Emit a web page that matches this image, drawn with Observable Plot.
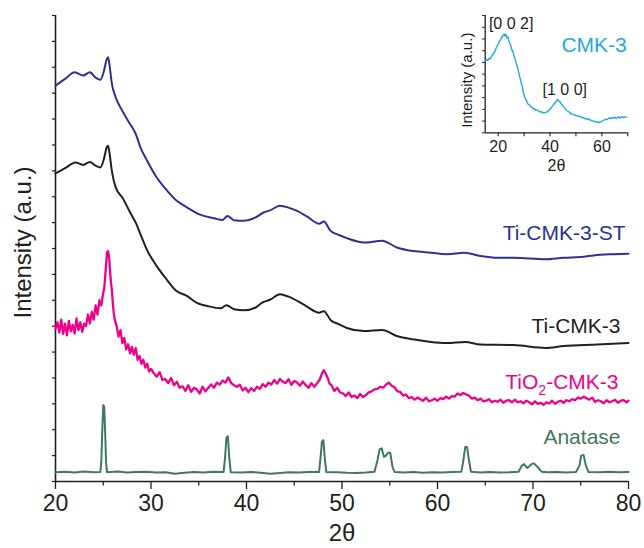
<!DOCTYPE html>
<html><head><meta charset="utf-8">
<script src="https://cdn.jsdelivr.net/npm/d3@7"></script>
<script src="https://cdn.jsdelivr.net/npm/@observablehq/plot@0.6"></script>
<style>
body{margin:0;background:#fff;}
#wrap{position:relative;width:644px;height:548px;}
#wrap svg{position:absolute;}
</style></head><body><div id="wrap"></div>
<script>
// ---------- data (2θ, intensity offset in arbitrary units) ----------
const seriesNames = ["Ti-CMK-3-ST", "Ti-CMK-3", "TiO2-CMK-3", "Anatase"];
const seriesColors = ["#2e3192", "#231f20", "#ec008c", "#3f7a5a"];
const xMajorTicks = [20, 30, 40, 50, 60, 70, 80];
const xMinorTicks = [25, 35, 45, 55, 65, 75];
const yTicks = [0,1,2,3,4,5,6,7,8,9,10,11,12,13,14,15,16,17,18];
const insetXTicks = [20, 30, 40, 50, 60, 70];
const insetXLabels = [20, 40, 60];
const insetYTicks = [0,1,2,3,4,5,6,7,8,9,10];
const insetName = "CMK-3";
const insetPeakLabels = ["[0 0 2]", "[1 0 0]"];

const tiCmkSt = [[20.0,15.29],[21.0,15.55],[22.0,15.81],[22.9,15.68],[23.6,15.81],[24.2,15.6],[24.7,15.52],[25.1,15.9],[25.35,16.3],[25.5,16.39],[25.65,16.1],[25.9,15.37],[26.3,14.84],[26.8,14.45],[27.7,13.87],[28.4,13.43],[28.9,12.90],[29.6,12.39],[30.6,11.74],[31.7,11.23],[32.7,10.84],[33.8,10.58],[35.0,10.33],[36.6,10.17],[37.5,10.10],[38.0,10.26],[38.7,10.09],[39.7,10.07],[40.9,10.19],[41.8,10.39],[42.5,10.48],[43.5,10.65],[44.4,10.58],[45.3,10.45],[46.4,10.22],[47.6,9.96],[48.1,10.04],[48.8,9.68],[49.7,9.52],[50.5,9.40],[52.3,9.23],[54.2,9.30],[55.8,9.03],[57.5,8.90],[59.3,8.84],[61.0,8.78],[62.8,8.84],[64.5,8.71],[66.3,8.64],[68.0,8.64],[71.3,8.58],[73.2,8.64],[75.0,8.67],[76.7,8.75],[78.5,8.78],[80.0,8.80]];

const tiCmk = [[20.0,11.90],[21.0,12.1],[22.1,12.32],[22.9,12.23],[23.6,12.34],[24.2,12.2],[24.7,12.13],[25.1,12.5],[25.35,12.9],[25.5,12.97],[25.65,12.7],[25.9,12.00],[26.3,11.36],[27.0,10.97],[27.9,10.33],[28.4,10.0],[28.9,9.55],[29.6,8.93],[30.6,8.32],[31.5,7.87],[32.6,7.38],[33.8,7.16],[34.8,6.90],[35.9,6.78],[37.3,6.69],[37.9,6.81],[38.7,6.65],[39.7,6.61],[40.9,6.71],[41.6,6.90],[42.5,7.03],[43.5,7.23],[44.4,7.14],[45.5,6.94],[46.4,6.74],[47.6,6.52],[48.1,6.58],[48.8,6.24],[49.7,6.07],[50.5,5.93],[52.3,5.81],[54.2,5.85],[55.8,5.61],[57.5,5.49],[59.3,5.39],[61.0,5.35],[62.9,5.39],[64.5,5.29],[68.0,5.27],[71.3,5.16],[73.2,5.23],[76.7,5.29],[80.0,5.35]];

const tio2Cmk = [[20.0,5.90],[20.2,6.15],[20.4,5.75],[20.6,6.25],[20.8,5.70],[21.0,6.10],[21.2,5.65],[21.4,6.20],[21.6,5.80],[21.8,6.05],[22.0,5.72],[22.2,6.30],[22.4,5.85],[22.6,6.15],[22.8,5.78],[23.0,6.10],[23.2,6.00],[23.4,6.45],[23.6,6.10],[23.8,6.55],[24.0,6.25],[24.2,6.80],[24.4,6.45],[24.6,7.00],[24.8,6.80],[25.0,7.30],[25.1,7.45],[25.2,7.90],[25.3,8.40],[25.4,8.85],[25.5,8.90],[25.6,8.70],[25.7,8.20],[25.8,7.70],[25.9,7.40],[26.0,6.90],[26.1,6.50],[26.2,6.25],[26.4,6.00],[26.6,5.60],[26.8,5.85],[27.0,5.35],[27.2,5.55],[27.4,5.10],[27.6,5.30],[27.8,4.95],[28.0,5.20],[28.2,4.90],[28.4,5.15],[28.6,4.70],[28.8,4.85],[29.0,4.55],[29.2,4.70],[29.4,4.40],[29.6,4.55],[29.8,4.25],[30.0,4.35],
[30.3,4.18],[30.6,4.05],[30.9,4.22],[31.2,3.92],[31.5,3.96],[31.8,3.80],[32.1,4.00],[32.4,3.72],[32.7,3.85],[33.0,3.62],[33.3,3.68],[33.6,3.50],[33.9,3.72],[34.2,3.46],[34.5,3.62],[34.8,3.55],[35.1,3.40],[35.4,3.66],[35.7,3.48],[36.0,3.62],[36.3,3.75],[36.6,3.62],[36.9,3.82],[37.2,3.74],[37.5,3.90],[37.8,3.82],[38.1,4.02],[38.4,3.80],[38.7,3.72],[39.0,3.66],[39.3,3.74],[39.6,3.52],[39.9,3.62],[40.2,3.45],[40.5,3.60],[40.8,3.50],[41.1,3.66],[41.4,3.58],[41.7,3.76],[42.0,3.66],[42.3,3.82],[42.6,3.74],[42.9,3.92],[43.2,3.78],[43.5,3.96],[43.8,3.86],[44.1,3.80],[44.4,3.95],[44.7,3.74],[45.0,3.88],[45.3,3.82],[45.6,3.70],[45.9,3.86],[46.2,3.72],[46.5,3.62],[46.8,3.80],[47.1,3.66],[47.4,3.80],[47.7,3.96],[47.9,4.18],[48.1,4.30],[48.3,4.16],[48.5,4.00],[48.7,3.78],[48.9,3.72],[49.2,3.50],[49.5,3.62],[49.8,3.44],[50.1,3.40],[50.4,3.30],[50.7,3.44],[51.0,3.26],[51.3,3.32],[51.6,3.22],[51.9,3.38],[52.2,3.26],[52.5,3.34],[52.8,3.44],[53.1,3.48],[53.4,3.56],[53.7,3.58],[54.0,3.66],[54.3,3.62],[54.6,3.74],[54.9,3.82],[55.2,3.70],[55.5,3.64],[55.8,3.48],[56.1,3.46],[56.4,3.32],[56.7,3.36],[57.0,3.22],[57.3,3.26],[57.6,3.16],[57.9,3.24],[58.2,3.18],[58.5,3.12],[58.8,3.24],[59.1,3.10],[59.4,3.14],[59.7,3.20],[60.0,3.12],[60.3,3.22],[60.6,3.18],[60.9,3.28],[61.2,3.20],[61.5,3.30],[61.8,3.28],[62.1,3.40],[62.4,3.34],[62.7,3.42],[63.0,3.36],[63.3,3.32],[63.6,3.20],[63.9,3.24],[64.2,3.14],[64.5,3.20],[64.8,3.10],[65.1,3.12],[65.4,3.18],[65.7,3.06],[66.0,3.12],[66.3,3.08],[66.6,3.16],[66.9,3.04],[67.2,3.12],[67.5,3.14],[67.8,3.06],[68.1,3.16],[68.4,3.06],[68.7,3.10],[69.0,3.02],[69.3,3.12],[69.6,3.06],[69.9,2.98],[70.2,3.10],[70.5,3.00],[70.8,3.04],[71.1,2.96],[71.4,3.06],[71.7,3.02],[72.0,3.12],[72.3,3.00],[72.6,3.08],[72.9,3.12],[73.2,3.04],[73.5,3.14],[73.8,3.10],[74.1,3.18],[74.4,3.14],[74.7,3.24],[75.0,3.20],[75.3,3.28],[75.6,3.22],[75.9,3.16],[76.2,3.24],[76.5,3.08],[76.8,3.14],[77.1,3.10],[77.4,3.02],[77.7,3.14],[78.0,3.06],[78.3,3.10],[78.6,3.16],[78.9,3.04],[79.2,3.12],[79.5,3.14],[79.8,3.06],[80.0,3.12]];

const anatase = [[20,0.36],[21,0.38],[22,0.35],[23,0.39],[24,0.36],[24.7,0.37],[24.8,0.8],[24.9,2.0],[25.0,2.95],[25.1,2.9],[25.2,1.9],[25.3,0.7],[25.4,0.36],[26.5,0.39],[27.5,0.35],[28.5,0.37],[29.5,0.38],[30.5,0.35],[31.5,0.36],[32.5,0.30],[33.5,0.34],[34.5,0.37],[35.5,0.35],[36.5,0.38],[37.6,0.37],[37.75,0.9],[37.9,1.7],[38.05,1.75],[38.2,0.9],[38.35,0.36],[39.5,0.35],[40.5,0.37],[41.5,0.34],[42.5,0.30],[43.5,0.33],[44.5,0.36],[45.5,0.35],[46.5,0.37],[47.6,0.37],[47.75,0.9],[47.9,1.55],[48.05,1.6],[48.2,0.9],[48.35,0.37],[49.5,0.36],[50.5,0.34],[51.5,0.33],[52.5,0.35],[53.4,0.38],[53.7,0.8],[53.95,1.25],[54.15,1.28],[54.4,0.95],[54.6,1.0],[54.85,1.12],[55.05,1.1],[55.3,0.55],[55.5,0.37],[56.5,0.35],[57.5,0.37],[58.5,0.34],[59.5,0.36],[60.5,0.35],[61.5,0.37],[62.5,0.38],[62.7,0.8],[62.9,1.33],[63.1,1.33],[63.3,0.8],[63.5,0.38],[64.5,0.35],[65.5,0.37],[66.5,0.35],[67.5,0.36],[68.5,0.38],[68.8,0.6],[69.05,0.67],[69.4,0.52],[69.8,0.66],[70.1,0.70],[70.5,0.55],[70.9,0.38],[71.5,0.36],[72.5,0.37],[73.5,0.35],[74.5,0.37],[74.85,0.6],[75.05,1.0],[75.3,1.02],[75.55,0.6],[75.8,0.37],[77,0.36],[78,0.38],[79,0.36],[80,0.37]];

const cmk3 = [[15.0,6.10],[15.5,6.25],[16.0,6.18],[16.5,6.35],[17.0,6.30],[17.5,6.55],[18.0,6.70],[18.5,6.85],[19.0,7.10],[19.5,7.35],[20.0,7.55],[20.5,7.80],[21.0,7.95],[21.5,8.20],[22.0,8.30],[22.3,8.42],[22.6,8.25],[23.0,8.40],[23.4,8.10],[23.8,8.15],[24.2,7.75],[24.6,7.60],[25.0,7.30],[25.4,7.00],[25.8,6.85],[26.2,6.50],[26.6,6.25],[27.0,5.90],[27.4,5.60],[27.8,5.30],[28.2,4.85],[28.6,4.55],[29.0,4.15],[29.4,3.85],[29.8,3.35],[30.2,3.10],[30.6,2.85],[31.0,2.70],[31.5,2.45],[32.0,2.40],[32.5,2.25],[33.0,2.15],[33.5,2.05],[34.0,2.05],[34.5,1.92],[35.0,1.95],[35.5,1.85],[36.0,1.82],[36.5,1.75],[37.0,1.78],[37.5,1.68],[38.0,1.72],[38.5,1.75],[39.0,1.80],[39.5,1.92],[40.0,2.00],[40.5,2.15],[41.0,2.30],[41.5,2.45],[42.0,2.55],[42.5,2.75],[43.0,2.85],[43.4,2.70],[43.8,2.65],[44.2,2.50],[44.6,2.38],[45.0,2.30],[45.5,2.15],[46.0,2.00],[46.5,1.90],[47.0,1.82],[47.5,1.75],[48.0,1.62],[48.5,1.60],[49.0,1.55],[49.5,1.52],[50.0,1.48],[50.5,1.45],[51.0,1.40],[51.5,1.42],[52.0,1.32],[52.5,1.30],[53.0,1.28],[53.5,1.20],[54.0,1.22],[54.5,1.15],[55.0,1.18],[55.5,1.08],[56.0,1.05],[56.5,1.00],[57.0,0.98],[57.5,0.92],[58.0,0.95],[58.5,0.88],[59.0,0.90],[59.5,0.92],[60.0,0.98],[60.5,1.05],[61.0,1.10],[61.5,1.15],[62.0,1.12],[62.5,1.22],[63.0,1.28],[63.5,1.20],[64.0,1.30],[64.5,1.25],[65.0,1.32],[65.5,1.22],[66.0,1.30],[66.5,1.35],[67.0,1.25],[67.5,1.38],[68.0,1.30],[68.5,1.35],[69.0,1.32],[69.5,1.36]];

// ---------- drawing ----------
const FONT = "'Liberation Sans', Arial, Helvetica, sans-serif";
const INK = "#231f20";
const CYAN = "#1fa9e1";
const X = d => d[0], Y = d => d[1];
const series = [tiCmkSt, tiCmk, tio2Cmk, anatase];
const labelDx = [-3, -8, -10, -8];
const labelDy = [-20, -17, -18, -35];
const lineWidths = [2, 2, 2.3, 2];

const seriesMarks = [];
[3, 2, 1, 0].forEach(i => {
  seriesMarks.push(Plot.line(series[i], {x: X, y: Y, stroke: seriesColors[i], strokeWidth: lineWidths[i],
    curve: i < 2 ? "monotone-x" : "linear"}));
});
series.forEach((s, i) => {
  seriesMarks.push(Plot.text([s[s.length - 1]], {x: X, y: Y, text: () => seriesNames[i],
    textAnchor: "end", lineAnchor: "middle", dx: labelDx[i], dy: labelDy[i], fill: seriesColors[i], fontSize: 21}));
});

const main = Plot.plot({
  width: 644, height: 548,
  marginLeft: 55, marginRight: 16, marginTop: 15, marginBottom: 67,
  style: {fontFamily: FONT, background: "white", color: INK, overflow: "visible"},
  x: {domain: [20, 80]},
  y: {domain: [0, 18]},
  marks: [
    Plot.axisX({ticks: xMajorTicks, tickSize: 8, tickPadding: 5, fontSize: 23, label: null, strokeWidth: 1.3}),
    Plot.axisX({ticks: xMinorTicks, tickSize: 4.5, tickFormat: () => "", label: null, strokeWidth: 1.3}),
    Plot.axisY({ticks: yTicks, tickSize: 3, tickFormat: () => "", label: null, strokeWidth: 1.2}),
    Plot.ruleY([0], {stroke: INK, strokeWidth: 1.6}),
    Plot.ruleX([20], {stroke: INK, strokeWidth: 1.6}),
    ...seriesMarks,
    Plot.text(["Intensity (a.u.)"], {text: d => d, frameAnchor: "left", textAnchor: "middle", lineAnchor: "middle", rotate: -90, dx: -32, dy: -6, fontSize: 24, fill: INK}),
    Plot.text(["2θ"], {text: d => d, frameAnchor: "bottom", textAnchor: "middle", lineAnchor: "middle", dy: 52, fontSize: 24, fill: INK})
  ]
});

const peak002 = d3.greatest(cmk3, Y);
const peak100 = d3.greatest(cmk3.filter(d => d[0] > 40 && d[0] < 46), Y);

const inset = Plot.plot({
  width: 204, height: 175,
  marginLeft: 44.7, marginRight: 16.7, marginTop: 15, marginBottom: 42.7,
  style: {fontFamily: FONT, background: "transparent", color: INK, overflow: "visible"},
  x: {domain: [15, 70]},
  y: {domain: [0, 10]},
  marks: [
    Plot.axisX({ticks: insetXTicks, tickSize: 4, tickPadding: 4, fontSize: 16, label: null, strokeWidth: 1.1,
      tickFormat: d => insetXLabels.includes(d) ? String(d) : ""}),
    Plot.axisY({ticks: insetYTicks, tickSize: 2.5, tickFormat: () => "", label: null, strokeWidth: 1.1}),
    Plot.ruleY([0], {stroke: INK, strokeWidth: 1.3}),
    Plot.ruleX([15], {stroke: INK, strokeWidth: 1.3}),
    Plot.line(cmk3, {x: X, y: Y, stroke: CYAN, strokeWidth: 1.4}),
    Plot.text([peak002], {x: X, y: Y, text: () => insetPeakLabels[0], dx: 7, dy: -10, fontSize: 16, fill: INK}),
    Plot.text([peak100], {x: X, y: Y, text: () => insetPeakLabels[1], dx: 7, dy: -9, fontSize: 16, fill: INK}),
    Plot.text([insetName], {text: d => d, frameAnchor: "top-right", textAnchor: "end", lineAnchor: "middle", dx: -1, dy: 30, fill: CYAN, fontSize: 21}),
    Plot.text(["Intensity (a.u.)"], {text: d => d, frameAnchor: "left", textAnchor: "middle", lineAnchor: "middle", rotate: -90, dx: -18, dy: 6, fontSize: 15, fill: INK}),
    Plot.text(["2θ"], {text: d => d, frameAnchor: "bottom", textAnchor: "middle", lineAnchor: "middle", dy: 33, fontSize: 16, fill: INK})
  ]
});
inset.style.left = "440px";
inset.style.top = "0px";

// subscript for TiO2
main.querySelectorAll("text").forEach(t => {
  if (t.textContent === "TiO2-CMK-3") {
    t.textContent = "";
    const ns = "http://www.w3.org/2000/svg";
    const a = document.createElementNS(ns, "tspan"); a.textContent = "TiO";
    const b = document.createElementNS(ns, "tspan"); b.textContent = "2";
    b.setAttribute("dy", "6"); b.setAttribute("font-size", "14");
    const c = document.createElementNS(ns, "tspan"); c.textContent = "-CMK-3"; c.setAttribute("dy", "-6");
    t.append(a, b, c);
  }
});

const wrap = document.getElementById("wrap");
main.style.left = "0px"; main.style.top = "0px";
wrap.append(main, inset);
</script></body></html>
